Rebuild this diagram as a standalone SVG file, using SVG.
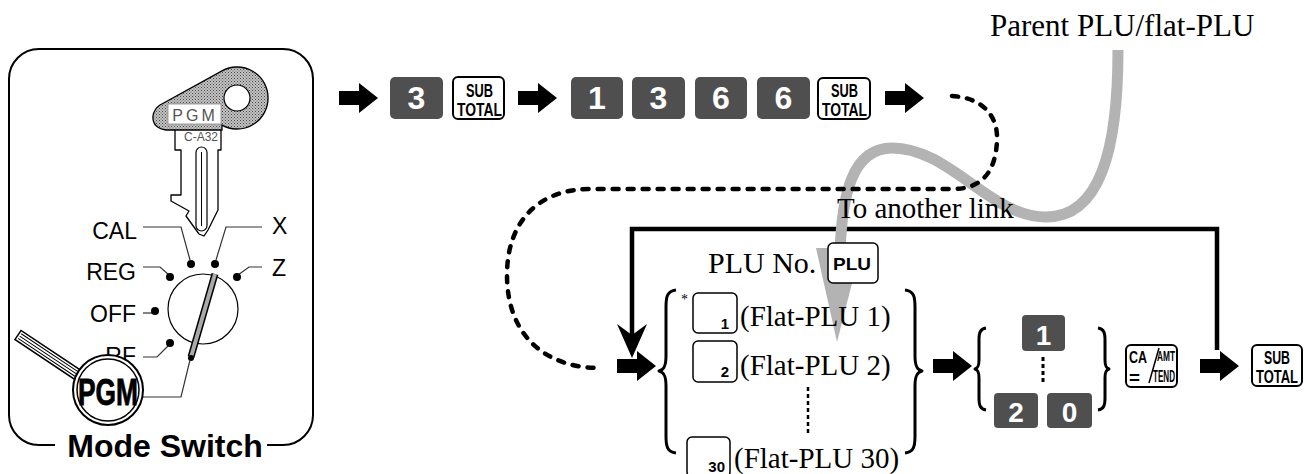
<svg xmlns="http://www.w3.org/2000/svg" width="1305" height="474" viewBox="0 0 1305 474">
  <defs>
    <style>
      .lbl{font-family:"Liberation Sans",Arial,sans-serif;font-size:23px;fill:#000}
      .serif{font-family:"Liberation Serif","Times New Roman",serif;fill:#000}
      .keyd{fill:#4f4f4f}
      .keyw{fill:#fff;stroke:#000;stroke-width:2}
      .keyt{fill:#fff;stroke:#000;stroke-width:1.5}
      .dig{font-family:"Liberation Sans",Arial,sans-serif;font-weight:bold;fill:#fff;text-anchor:middle}
      .kt{font-family:"Liberation Sans",Arial,sans-serif;font-weight:bold;fill:#000}
      .lead{fill:none;stroke:#333;stroke-width:1.2}
      .brace{fill:none;stroke:#000;stroke-width:3;stroke-linejoin:round}
      .dot{fill:#000}
    </style>
    <!-- block arrow, tip at (39,0) -->
    <path id="arr" d="M0,-7 H20 V-15 L39,0 L20,15 V7 H0 Z" fill="#000"/>
    <!-- halftone fill for the key head -->
    <pattern id="stip" width="3" height="3" patternUnits="userSpaceOnUse">
      <rect width="3" height="3" fill="#c4c4c4"/>
      <rect width="1" height="1" fill="#444"/>
      <rect x="1.5" y="1.5" width="1" height="1" fill="#555"/>
    </pattern>
  </defs>

  <!-- ========== Mode switch panel ========== -->
  <g id="mode-switch">
    <path d="M55,445 H39 A30,30 0 0 1 9,415 V79 A30,30 0 0 1 39,49 H283 A30,30 0 0 1 313,79 V415 A30,30 0 0 1 283,445 H267" fill="none" stroke="#000" stroke-width="2"/>
    <text x="165" y="457" text-anchor="middle" font-family="Liberation Sans, Arial, sans-serif" font-weight="bold" font-size="32">Mode Switch</text>

    <!-- key blade -->
    <path d="M175,128 L175,150 L181,150 L181,195 L171,195 L171,201 L189,211 L186,216 L199,234 L204,236 L208,230 L218,210 L218,150 L221,150 L221,128 Z" fill="#fff" stroke="#000" stroke-width="1.3" stroke-linejoin="round"/>
    <rect x="196" y="147" width="11" height="84" rx="5.5" fill="#fff" stroke="#000" stroke-width="1.2"/>
    <path d="M201.5,152 V226" stroke="#000" stroke-width="1"/>
    <text x="201" y="141" text-anchor="middle" font-family="Liberation Sans, Arial, sans-serif" font-size="12" fill="#555">C-A32</text>
    <!-- key head -->
    <path d="M160,105 L222,70.9 A31,31 0 1 1 222,125.1 L222,130 L166,130 Q152,128 153,116 Q154,109 160,105 Z" fill="url(#stip)" stroke="#000" stroke-width="1.3"/>
    <circle cx="237" cy="98" r="13" fill="#fff" stroke="#000" stroke-width="1.2"/>
    <rect x="168" y="104" width="53" height="20" fill="#fff" stroke="#888" stroke-width="0.8"/>
    <text x="195" y="121" text-anchor="middle" font-family="Liberation Sans, Arial, sans-serif" font-size="16" letter-spacing="3" fill="#555">PGM</text>

    <!-- dial -->
    <circle cx="203" cy="309" r="35" fill="#fff" stroke="#000" stroke-width="1.2"/>
    <path class="lead" d="M143,227 H181 L190,260"/>
    <path class="lead" d="M216,260 L226,227 H262"/>
    <path class="lead" d="M143,267 H160 L169,275"/>
    <path class="lead" d="M238,275 L249,267 H262"/>
    <path class="lead" d="M143,313 H152"/>
    <path class="lead" d="M143,357 H157 L169,345"/>
    <circle class="dot" cx="191" cy="264" r="4"/>
    <circle class="dot" cx="215" cy="264" r="4"/>
    <circle class="dot" cx="170" cy="277" r="4"/>
    <circle class="dot" cx="237" cy="277" r="4"/>
    <circle class="dot" cx="155" cy="311" r="4"/>
    <circle class="dot" cx="170" cy="343" r="4"/>
    <text class="lbl" x="137" y="239" text-anchor="end">CAL</text>
    <text class="lbl" x="272" y="234">X</text>
    <text class="lbl" x="136" y="280" text-anchor="end">REG</text>
    <text class="lbl" x="272" y="276">Z</text>
    <text class="lbl" x="136" y="322" text-anchor="end">OFF</text>
    <text class="lbl" x="136" y="364" text-anchor="end">RF</text>
    <!-- lever -->
    <path d="M215,274 L191,357" stroke="#000" stroke-width="7"/>
    <path d="M215,274 L191,357" stroke="#aaa" stroke-width="4"/>
    <circle cx="191" cy="358" r="3" fill="#000"/>
    <path class="lead" d="M190,360 L181,397 H143"/>

    <!-- magnifier -->
    <g transform="translate(18,335) rotate(33.7)">
      <rect x="0" y="-5.5" width="74" height="11" fill="#fff" stroke="#000" stroke-width="1.5"/>
      <path d="M2,-2.8 H72 M2,0 H72 M2,2.8 H72" stroke="#000" stroke-width="1"/>
    </g>
    <circle cx="108" cy="390" r="35" fill="#fff" stroke="#000" stroke-width="2"/>
    <circle cx="108" cy="390" r="31" fill="none" stroke="#000" stroke-width="1.5"/>
    <text x="78" y="405" textLength="60" lengthAdjust="spacingAndGlyphs" font-family="Liberation Sans, Arial, sans-serif" font-weight="bold" font-size="37" stroke="#000" stroke-width="0.8">PGM</text>
  </g>

  <!-- ========== Connectors ========== -->
  <g id="connectors">
    <!-- loop back "To another link" -->
    <path d="M1217,350 V229 H632 V336" fill="none" stroke="#000" stroke-width="4.5"/>
    <path d="M632,358 L617,324 L632,335 L647,324 Z" fill="#000"/>
    <!-- parent PLU / flat-PLU pointer -->
    <path d="M1118,50 C1118,150 1100,217 1046,217 C990,217 950,148 892,148 C852,148 842,195 840,252" fill="none" stroke="#b3b3b3" stroke-width="11"/>
    <path d="M816,248 L861,248 L837,342 Z" fill="#b3b3b3"/>
    <!-- dashed continuation -->
    <path d="M952,96 C985,98 998,118 997,140 C996,168 985,188 955,189 L590,189 C540,189 507,220 507,275 C507,335 545,368 600,368" fill="none" stroke="#000" stroke-width="4.5" stroke-dasharray="6 9" stroke-linecap="round"/>
    <!-- block arrows -->
    <use href="#arr" x="339" y="98"/>
    <use href="#arr" x="518" y="98"/>
    <use href="#arr" x="885" y="98"/>
    <use href="#arr" x="617" y="366"/>
    <use href="#arr" x="933" y="366"/>
    <use href="#arr" x="1200" y="366"/>
  </g>

  <!-- ========== Top key sequence ========== -->
  <g id="key-3a"><rect class="keyd" x="390" y="77" width="53" height="42" rx="5"/><text class="dig" x="416.5" y="108.5" font-size="32">3</text></g>
  <g id="key-subtotal-1">
    <rect class="keyw" x="453" y="77" width="51" height="42" rx="5"/>
    <text class="kt" x="466" y="96.5" font-size="18" textLength="27" lengthAdjust="spacingAndGlyphs">SUB</text>
    <text class="kt" x="457" y="116" font-size="18" textLength="45" lengthAdjust="spacingAndGlyphs">TOTAL</text>
  </g>
  <g id="key-1a"><rect class="keyd" x="571" y="77" width="52" height="42" rx="5"/><text class="dig" x="597" y="108.5" font-size="32">1</text></g>
  <g id="key-3b"><rect class="keyd" x="632" y="77" width="53" height="42" rx="5"/><text class="dig" x="658.5" y="108.5" font-size="32">3</text></g>
  <g id="key-6a"><rect class="keyd" x="695" y="77" width="52" height="42" rx="5"/><text class="dig" x="721" y="108.5" font-size="32">6</text></g>
  <g id="key-6b"><rect class="keyd" x="757" y="77" width="53" height="42" rx="5"/><text class="dig" x="783.5" y="108.5" font-size="32">6</text></g>
  <g id="key-subtotal-2">
    <rect class="keyw" x="818" y="78" width="52" height="41" rx="5"/>
    <text class="kt" x="831" y="97" font-size="18" textLength="27" lengthAdjust="spacingAndGlyphs">SUB</text>
    <text class="kt" x="822" y="116" font-size="18" textLength="45" lengthAdjust="spacingAndGlyphs">TOTAL</text>
  </g>

  <!-- ========== Labels ========== -->
  <g id="label-parent">
    <text class="serif" x="990" y="36" font-size="31">Parent PLU/flat-PLU</text>
  </g>
  <g id="label-link">
    <text class="serif" x="837" y="218" font-size="29">To another link</text>
  </g>

  <!-- ========== Flat-PLU selection ========== -->
  <g id="flat-plu">
    <text class="serif" x="708" y="273" font-size="30">PLU No.</text>
    <rect class="keyt" x="828" y="243" width="50" height="40" rx="5"/>
    <text class="kt" x="833" y="270" font-size="17" textLength="38" lengthAdjust="spacingAndGlyphs">PLU</text>

    <path class="brace" d="M676,290 C667,291 666,297 666,307 L666,356 C666,366 664,370 659,371 C664,372 666,376 666,386 L666,436 C666,446 667,452 676,453"/>
    <path class="brace" d="M905,290 C914,291 915,297 915,307 L915,356 C915,366 917,370 922,371 C917,372 915,376 915,386 L915,436 C915,446 914,452 905,453"/>

    <text class="serif" x="681" y="304" font-size="14">*</text>
    <rect class="keyt" x="693" y="293" width="44" height="40" rx="5"/>
    <text class="kt" x="729" y="329" font-size="15" text-anchor="end">1</text>
    <text class="serif" x="740" y="326" font-size="29">(Flat-PLU 1)</text>

    <rect class="keyt" x="693" y="341" width="44" height="41" rx="5"/>
    <text class="kt" x="729" y="377" font-size="15" text-anchor="end">2</text>
    <text class="serif" x="740" y="375" font-size="29">(Flat-PLU 2)</text>

    <path d="M808,387 V433" stroke="#000" stroke-width="2.5" stroke-dasharray="4 3"/>

    <rect class="keyt" x="687" y="437" width="43" height="40" rx="5"/>
    <text class="kt" x="725" y="472" font-size="15" text-anchor="end">30</text>
    <text class="serif" x="734" y="468" font-size="29">(Flat-PLU 30)</text>
  </g>

  <!-- ========== Quantity 1..20 ========== -->
  <g id="quantity">
    <path class="brace" d="M986,328 C980,329 979,333 979,340 L979,360 C979,366 978,368 975,369 C978,370 979,372 979,378 L979,398 C979,405 980,409 986,410"/>
    <path class="brace" d="M1098,328 C1104,329 1105,333 1105,340 L1105,360 C1105,366 1106,368 1109,369 C1106,370 1105,372 1105,378 L1105,398 C1105,405 1104,409 1098,410"/>
    <rect class="keyd" x="1022" y="315" width="43" height="36" rx="4"/>
    <text class="dig" x="1043.5" y="345" font-size="28">1</text>
    <path d="M1043,357 V382" stroke="#000" stroke-width="3" stroke-dasharray="4 3"/>
    <rect class="keyd" x="994" y="393" width="44" height="35" rx="4"/>
    <text class="dig" x="1016" y="422" font-size="28">2</text>
    <rect class="keyd" x="1047" y="393" width="45" height="35" rx="4"/>
    <text class="dig" x="1069.5" y="422" font-size="28">0</text>
  </g>

  <!-- ========== CA/AMT TEND key ========== -->
  <g id="key-ca-amt">
    <rect class="keyw" x="1126" y="345" width="51" height="42" rx="5"/>
    <text class="kt" x="1129" y="363" font-size="17" textLength="18" lengthAdjust="spacingAndGlyphs">CA</text>
    <path d="M1149,383 L1159,348" stroke="#000" stroke-width="1.5"/>
    <text class="kt" x="1157" y="361" font-size="15" textLength="18" lengthAdjust="spacingAndGlyphs">AMT</text>
    <text class="kt" x="1129" y="384" font-size="18" textLength="11" lengthAdjust="spacingAndGlyphs">=</text>
    <text class="kt" x="1153" y="382" font-size="17" textLength="22" lengthAdjust="spacingAndGlyphs">TEND</text>
  </g>

  <!-- ========== Final SUBTOTAL key ========== -->
  <g id="key-subtotal-3">
    <rect class="keyw" x="1252" y="345" width="50" height="41" rx="5"/>
    <text class="kt" transform="translate(1264,364) scale(1,1.3)" font-size="14" textLength="26" lengthAdjust="spacingAndGlyphs">SUB</text>
    <text class="kt" transform="translate(1256,383) scale(1,1.3)" font-size="14" textLength="42" lengthAdjust="spacingAndGlyphs">TOTAL</text>
  </g>
</svg>
